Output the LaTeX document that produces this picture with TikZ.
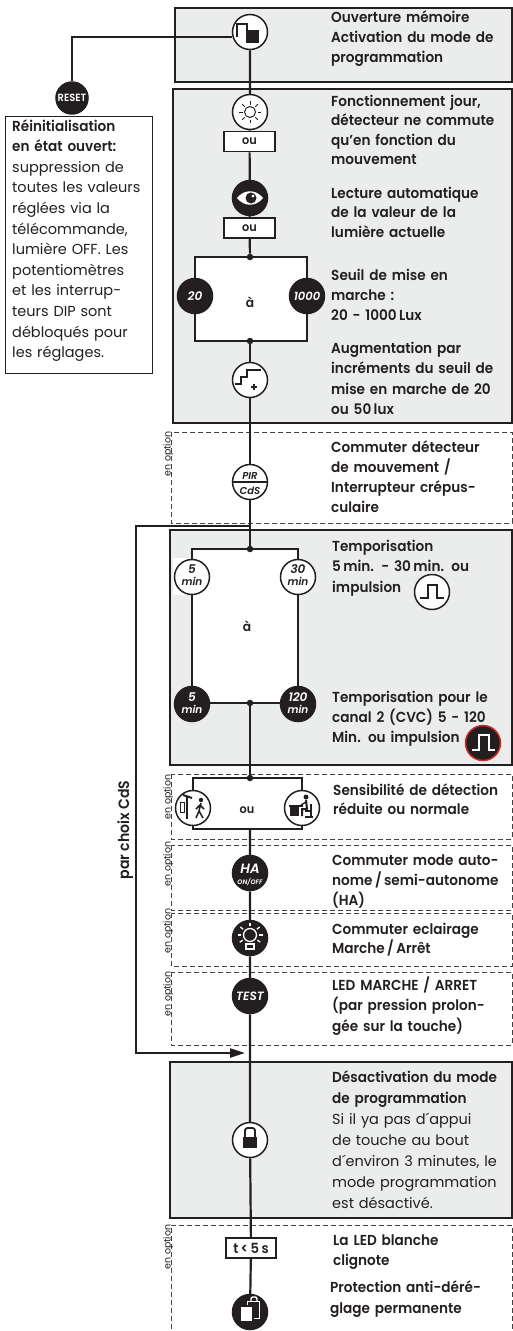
\documentclass[tikz,border=0pt]{standalone}
\usepackage{fontspec}
\setmainfont{Poppins}[BoldFont={* SemiBold},ItalicFont={* Italic},BoldItalicFont={* SemiBold Italic},BoldFeatures={FakeStretch=0.94}]
\usetikzlibrary{arrows.meta}
\definecolor{boxgray}{RGB}{235,237,236}
\definecolor{ink}{RGB}{35,31,32}
\definecolor{ringred}{RGB}{210,40,40}
\newcommand\myfs[1]{\fontsize{#1}{#1}\selectfont}
\newcommand\mytf[1]{\fontsize{14.5}{#1}\selectfont\bfseries}
\begin{document}
\begin{tikzpicture}[x=1pt,y=-1pt,
 mainln/.style={draw=ink,line width=2.2pt},
 thinln/.style={draw=ink,line width=1.8pt},
 graybox/.style={draw=ink,fill=boxgray,line width=1.1pt},
 optbox/.style={draw=ink!85,dash pattern=on 5pt off 3pt,line width=0.9pt},
 wcirc/.style={circle,draw=ink,fill=white,line width=1.5pt,minimum size=35pt,inner sep=0pt,text=ink},
 bcirc/.style={circle,draw=ink,fill=ink,line width=1.5pt,minimum size=35pt,inner sep=0pt,text=white},
 oubox/.style={draw=ink,fill=white,line width=1.7pt,minimum width=51pt,minimum height=20pt,inner sep=0pt,text=ink,font=\myfs{12}\bfseries},
 jdot/.style={circle,fill=ink,minimum size=6.5pt,inner sep=0pt},
 txt/.style={anchor=base west,text width=250pt,align=left,inner sep=0pt,text=ink},
 optlbl/.style={rotate=90,anchor=base,inner sep=0pt,text=ink,font=\myfs{9.5}},
 icon/.style={draw=ink,line width=1.5pt},
 wicon/.style={draw=white,line width=1.5pt},
 numf/.style={anchor=base,inner sep=0pt,font=\myfs{12}\bfseries\itshape},
 minf/.style={anchor=base,inner sep=0pt,font=\myfs{10.5}\bfseries\itshape},
]
\useasboundingbox (0,0) rectangle (513,1331);
% ---------- frames
\draw[graybox] (175,8) rectangle (512,82);
\draw[graybox] (173,89) rectangle (512,423);
\draw[optbox] (171,432) rectangle (512,523);
\draw[graybox] (170,530) rectangle (512,765);
\draw[optbox] (171,774) rectangle (512,839);
\draw[optbox] (171,845) rectangle (512,910);
\draw[optbox] (171,913) rectangle (512,966);
\draw[optbox] (171,972) rectangle (512,1045);
\draw[graybox] (170,1062) rectangle (512,1218);
\draw[optbox] (171,1345) -- (171,1225) -- (512,1225) -- (512,1345);
\draw[draw=ink,line width=1pt] (5,116) rectangle (152,373);
% ---------- step 1
\node[wcirc] (unlock) at (250,32) {};
\draw[icon] (237,37) -- (237,24) -- (247,24) -- (247,31);
\fill[ink] (246,30) rectangle (259,43);
\node[bcirc,minimum size=32pt,font=\myfs{10.5}\bfseries] (reset) at (72,98) {RESET};
\draw[mainln] (reset.north) |- (unlock.196);
% ---------- box 2
\node[wcirc] (sun) at (250,112) {};
\draw[ink,line width=1pt] (sun.center) circle (5.5);
\foreach \a in {0,45,...,315} \draw[ink,line width=1pt,shift={(sun.center)}] (\a:7.5) -- (\a:11);
\node[oubox] (ou1) at (249.5,141.5) {ou};
\node[bcirc] (eye) at (250,198) {};
\fill[white,shift={(eye.center)}] (-13,0) .. controls (-6,-9) and (6,-9) .. (13,0) .. controls (6,9) and (-6,9) .. (-13,0) -- cycle;
\fill[ink,shift={(eye.center)}] (1,0) circle (5.5);
\fill[white,shift={(eye.center)}] (3,-2) circle (1.7);
\node[oubox] (ou2) at (249.5,228) {ou};
\draw[thinln,fill=white] (195,257) rectangle (307,341);
\node[jdot] (j1) at (250,257) {};
\node[jdot] (j2) at (250,341) {};
\node[bcirc,font=\myfs{12}\bfseries\itshape] (c20) at (195,296) {20};
\node[bcirc,font=\myfs{11.5}\bfseries\itshape] (c1000) at (307,296) {1000};
\node[font=\myfs{13}\bfseries,text=ink] (a1) at (250,302) {à};
\node[wcirc] (step) at (250,380) {};
\draw[icon,line width=1.8pt,shift={(step.center)}] (-15,4) -- (-9,4) -- (-9,-3) -- (-3,-3) -- (-3,-10) -- (11,-10);
\draw[ink,line width=1.1pt,shift={(step.center)}] (1,7) -- (7,7) (4,4) -- (4,10);
\draw[mainln] (unlock) -- (sun) -- (ou1) -- (eye) -- (ou2) -- (j1);
% ---------- PIR
\node[wcirc] (pir) at (250,482) {};
\draw[ink,line width=1.4pt] (pir.west) -- (pir.east);
\node[font=\myfs{10}\bfseries\itshape,text=ink,anchor=base,inner sep=0pt] (pirA) at (250,479) {PIR};
\node[font=\myfs{10}\bfseries\itshape,text=ink,anchor=base,inner sep=0pt] (pirB) at (250,494) {CdS};
\node[optlbl] (o1) at (170.5,454) {en option};
% ---------- Temporisation
\fill[white] (173,558) rectangle (211,595);
\draw[thinln,fill=white] (192,549) rectangle (298,703);
\node[jdot] (j3) at (250,549) {};
\node[jdot] (j4) at (250,703) {};
\draw[mainln] (j2) -- (step) -- (pir) -- (j3);
\coordinate (fb) at (250,526);
\coordinate (fbl) at (136,526);
\coordinate (fbb) at (136,1053);
\coordinate (fbt) at (245,1053);
\draw[mainln,-{Triangle[length=15pt,width=9pt]}] (fb) -- (fbl) -- (fbb) -- (fbt);
\node[wcirc] (m5a) at (192,577) {};
\node[numf,text=ink] (m5aN) at (192,573.5) {5};
\node[minf,text=ink] (m5aM) at (192,585.5) {min};
\node[wcirc] (m30) at (298,577) {};
\node[numf,text=ink] (m30N) at (298,573.5) {30};
\node[minf,text=ink] (m30M) at (298,585.5) {min};
\node[font=\myfs{13}\bfseries,text=ink] (a2) at (247,626) {à};
\node[bcirc] (m5b) at (192,704) {};
\node[numf,text=white] (m5bN) at (192,701) {5};
\node[minf,text=white] (m5bM) at (192,713) {min};
\node[bcirc] (m120) at (298,704) {};
\node[numf,text=white] (m120N) at (298,701) {120};
\node[minf,text=white] (m120M) at (298,713) {min};
\node[wcirc] (pl1) at (432,592) {};
\draw[icon,line width=1.7pt,shift={(pl1.center)}] (-12,6) -- (-4,6) -- (-4,-7) -- (5,-7) -- (5,6) -- (12,6);
\node[bcirc,draw=ringred] (pl2) at (483,743) {};
\draw[wicon,line width=1.7pt,shift={(pl2.center)}] (-11,7) -- (-4,7) -- (-4,-8) -- (6,-8) -- (6,7) -- (12,7);
% ---------- Sensibilite
\node[jdot] (j5) at (250,778) {};
\draw[thinln] (193,778) rectangle (302,829);
\coordinate (j6) at (250,829);
\draw[mainln] (j4) -- (j5);
\node[wcirc] (s1) at (193,808) {};
\begin{scope}[shift={(s1.center)}]
\draw[ink,line width=2pt] (-10,-13) -- (-1,-10);
\draw[ink,line width=2pt] (-6,-11) -- (-6,11);
\draw[ink,line width=1pt] (-13,-6) rectangle (-9,4);
\fill[ink] (8,-8) circle (2.2);
\draw[ink,line width=1.5pt] (8,-5) -- (6,3) -- (3,10) (6,3) -- (10,10) (7,-3) -- (3,1) (7,-3) -- (11,1);
\end{scope}
\node[wcirc] (s2) at (302,808) {};
\begin{scope}[shift={(s2.center)}]
\fill[ink] (-12,-2) rectangle (-3,8);
\draw[ink,line width=1.2pt] (-13,-2) -- (1,-2);
\fill[ink] (4,-11) circle (2.5);
\draw[ink,line width=2pt] (4,-8) -- (5,1) -- (0,1) -- (0,8);
\draw[ink,line width=1.4pt] (4,-6) -- (-1,-3);
\draw[ink,line width=1.4pt] (9,-4) -- (9,3) -- (3,3) (9,3) -- (9,9) (3,9) -- (11,9);
\end{scope}
\node[font=\myfs{12}\bfseries,text=ink] (ou3) at (247,810) {ou};
\node[optlbl] (o2) at (170.5,797) {en option};
% ---------- HA, light, test
\node[bcirc] (ha) at (250,873) {};
\node[font=\myfs{13.5}\bfseries\itshape,text=white,anchor=base,inner sep=0pt] (haA) at (250,873) {HA};
\node[font=\myfs{6.5}\bfseries\itshape,text=white,anchor=base,inner sep=0pt] (haB) at (250,884) {ON/OFF};
\node[optlbl] (o3) at (170.5,864) {en option};
\node[bcirc] (light) at (250,938) {};
\draw[wicon,line width=1.3pt,shift={(light.center)}] (0,-3) circle (6.5);
\foreach \a in {0,-40,-90,-140,180,35,145} \draw[wicon,line width=1.3pt,shift={(light.center)}] (0,-3) ++(\a:9) -- ++(\a:3.5);
\draw[wicon,line width=1.2pt,shift={(light.center)}] (-4,6) rectangle (4,11);
\node[optlbl] (o4) at (170.5,931) {en option};
\node[bcirc,font=\myfs{12}\bfseries\itshape] (test) at (250,996) {TEST};
\node[optlbl] (o5) at (170.5,994) {en option};
% ---------- lock
\node[wcirc] (lock) at (250,1140) {};
\draw[icon,line width=1.8pt,rounded corners=2.5pt,shift={(lock.center)}] (-5,-2) -- (-5,-12) -- (5,-12) -- (5,-2);
\fill[ink,shift={(lock.center)}] (-7,-3) rectangle (7,8);
\node[oubox,font=\myfs{14}\bfseries,minimum width=50pt,minimum height=20pt] (t5) at (251,1248) {t\,<\,5\,s};
\node[bcirc] (lockb) at (250,1312) {};
\begin{scope}[shift={(lockb.center)}]
\draw[white,line width=1.4pt,rounded corners=2pt] (1,-11) -- (1,-15) -- (7,-15) -- (7,-11);
\draw[white,line width=1pt] (-3,-11) rectangle (9,6);
\draw[ink,fill=white,line width=1.2pt] (-10,-6) rectangle (3,10);
\end{scope}
\node[optlbl] (o6) at (170.5,1247) {en option};
\draw[mainln] (j6) -- (ha) -- (light) -- (test) -- (lock) -- (t5) -- (lockb);
\node[rotate=90,anchor=base,inner sep=0pt,font=\myfs{15}\bfseries,text=ink] (pc) at (129,830) {par choix CdS};
% ---------- texts
\node[txt,font=\mytf{20}] (t1) at (331,22) {Ouverture mémoire\\Activation du mode de\\programmation};
\node[txt,font=\mytf{19.5}] (t2) at (331,106) {Fonctionnement jour,\\détecteur ne commute\\qu’en fonction du\\mouvement};
\node[txt,font=\mytf{19.5}] (t3) at (331,198) {Lecture automatique\\de la valeur de la\\lumière actuelle};
\node[txt,font=\mytf{20}] (t4) at (331,280) {Seuil de mise en\\marche :\\20 - 1000\,Lux};
\node[txt,font=\mytf{20.5}] (t5t) at (331,353) {Augmentation par\\incréments du seuil de\\mise en marche de 20\\ou 50\,lux};
\node[txt,font=\mytf{20}] (t6) at (331,452) {Commuter détecteur\\de mouvement /\\Interrupteur crépus-\\culaire};
\node[txt,font=\mytf{20.5}] (t7) at (332,551) {Temporisation\\5\,min. - 30\,min. ou\\impulsion};
\node[txt,font=\mytf{20}] (t8) at (332,702) {Temporisation pour le\\canal 2 (CVC) 5 - 120\\Min. ou impulsion};
\node[txt,font=\mytf{19.5}] (t9) at (333,795) {Sensibilité de détection\\réduite ou normale};
\node[txt,font=\mytf{20}] (t10) at (332,865) {Commuter mode auto-\\nome\,/\,semi-autonome\\(HA)};
\node[txt,font=\mytf{19.5}] (t11) at (332,934) {Commuter eclairage\\Marche\,/\,Arrêt};
\node[txt,font=\mytf{20.5}] (t12) at (332,990) {LED MARCHE / ARRET\\(par pression prolon-\\gée sur la touche)};
\node[txt,font=\mytf{21}] (t13) at (332,1082) {Désactivation du mode\\de programmation\\\mdseries Si il ya pas d´appui\\de touche au bout\\d´environ 3 minutes, le\\mode programmation\\est désactivé.};
\node[txt,font=\mytf{20}] (t14) at (333,1245) {La LED blanche\\clignote};
\node[txt,font=\mytf{21}] (t15) at (330,1292) {Protection anti-déré-\\glage permanente};
\node[txt,font=\fontsize{14.5}{20.6}\selectfont] (left) at (12,131) {\textbf{Réinitialisation}\\\textbf{en état ouvert:}\\suppression de\\toutes les valeurs\\réglées via la\\télécommande,\\lumière OFF. Les\\potentiomètres\\et les interrup-\\teurs DIP sont\\débloqués pour\\les réglages.};
\end{tikzpicture}
\end{document}
